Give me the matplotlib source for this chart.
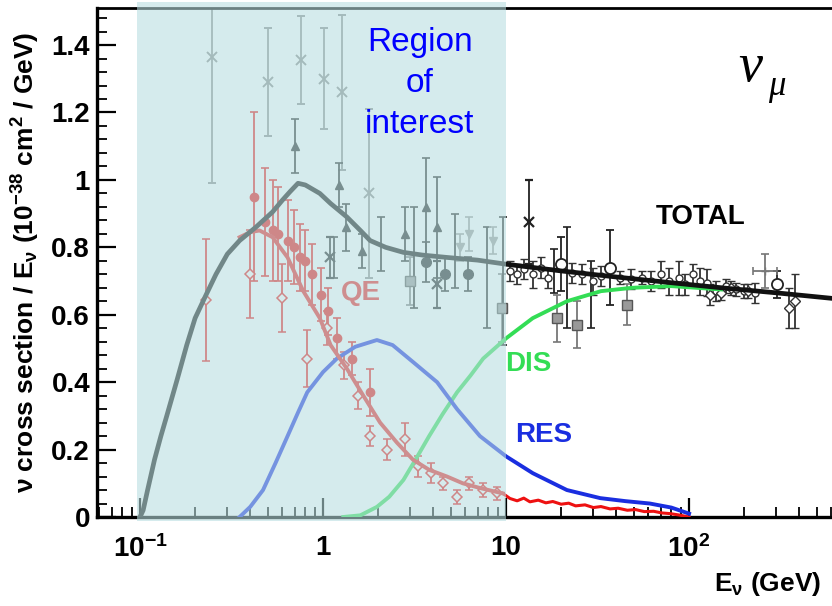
"""
Neutrino-nucleon cross section per energy vs E_nu, with QE / RES / DIS
contributions and the 0.1-10 GeV "region of interest" shaded.
"""

import numpy as np
import matplotlib.pyplot as plt
import matplotlib.transforms as mtransforms
from matplotlib.patches import Rectangle
from matplotlib.ticker import LogLocator, MultipleLocator, NullFormatter

plt.rcParams['font.family'] = ['Liberation Sans', 'DejaVu Sans']
plt.rcParams['font.weight'] = 'bold'
plt.rcParams['axes.labelweight'] = 'bold'
plt.rcParams['mathtext.fontset'] = 'custom'
plt.rcParams['mathtext.rm'] = 'Liberation Sans:bold'
plt.rcParams['mathtext.it'] = 'Liberation Sans:italic:bold'
plt.rcParams['mathtext.bf'] = 'Liberation Sans:bold'
plt.rcParams['mathtext.default'] = 'rm'

# --- theory curves (E in GeV, sigma/E in 1e-38 cm^2/GeV) ---
total_E = [0.100, 0.104, 0.11, 0.12, 0.13, 0.14, 0.16, 0.18, 0.20, 0.23, 0.26, 0.30,
           0.35, 0.43, 0.53, 0.60, 0.66, 0.73, 0.80, 0.96, 1.1, 1.35, 1.6, 1.81,
           2.2, 2.75, 3.5, 4.76, 7, 10, 20, 40, 80, 150, 300, 620]
total_y = [0.0, 0.02, 0.08, 0.17, 0.24, 0.30, 0.41, 0.51, 0.59, 0.66, 0.72, 0.78,
           0.82, 0.86, 0.905, 0.94, 0.965, 0.99, 0.985, 0.96, 0.93, 0.89, 0.85, 0.82,
           0.80, 0.785, 0.777, 0.77, 0.762, 0.75, 0.73, 0.712, 0.695, 0.68, 0.665, 0.648]

qe_E = [0.35, 0.40, 0.45, 0.53, 0.64, 0.78, 0.96, 1.1, 1.35, 1.66, 2.05, 2.54,
        3.1, 3.8, 4.76, 5.8, 7.2, 9.6]
qe_y = [0.83, 0.845, 0.85, 0.83, 0.77, 0.67, 0.59, 0.51, 0.44, 0.36, 0.28, 0.22,
        0.17, 0.14, 0.12, 0.10, 0.086, 0.07]

# noisy QE tail above 10 GeV
qe_tail_E = [9.6, 10.5, 11.5, 12.5, 13.5, 15, 16.5, 18, 20, 22, 24, 27, 30, 33, 37,
             41, 46, 51, 57, 64, 71, 79, 88, 100]
qe_tail_y = [0.07, 0.055, 0.048, 0.056, 0.045, 0.050, 0.042, 0.046, 0.038, 0.041,
             0.033, 0.036, 0.028, 0.031, 0.024, 0.026, 0.020, 0.022, 0.016, 0.017,
             0.012, 0.010, 0.006, 0.0]

res_E = [0.35, 0.40, 0.47, 0.55, 0.64, 0.73, 0.82, 1.0, 1.19, 1.5, 1.97, 2.4, 3.1,
         4.2, 5.4, 7.2, 10, 14, 21.5, 32.7, 45, 61, 80, 100]
res_y = [0.0, 0.03, 0.08, 0.16, 0.24, 0.31, 0.37, 0.43, 0.47, 0.505, 0.525, 0.51,
         0.46, 0.40, 0.32, 0.24, 0.18, 0.13, 0.08, 0.056, 0.047, 0.04, 0.028, 0.01]

dis_E = [1.29, 1.6, 1.97, 2.3, 2.75, 3.2, 3.8, 4.5, 5.4, 6.4, 7.5, 10, 14, 21.5,
         33, 49, 80, 150]
dis_y = [0.0, 0.005, 0.03, 0.06, 0.11, 0.17, 0.24, 0.305, 0.37, 0.42, 0.47, 0.53,
         0.59, 0.64, 0.67, 0.68, 0.685, 0.675]

# --- total cross section measurements ---
xgray_E = [0.247, 0.50, 0.76, 1.01, 1.27, 1.78]
xgray_y = [1.365, 1.29, 1.356, 1.30, 1.26, 0.96]
xgray_err = [0.375, 0.16, 0.13, 0.15, 0.23, 0.25]

xblack_E = [1.09, 4.2, 13.4]
xblack_y = [0.77, 0.69, 0.875]
xblack_err = [0.06, 0.07, 0.125]

tri_E = [0.70, 1.22, 1.34, 1.63, 2.8, 3.66, 4.2]
tri_y = [1.10, 0.985, 0.86, 0.79, 0.84, 0.92, 0.86]
tri_err = [0.08, 0.065, 0.07, 0.05, 0.08, 0.145, 0.15]

circ_E = [3.66, 4.64, 6.2]
circ_y = [0.757, 0.72, 0.72]
circ_err = [0.06, 0.05, 0.05]

sq_E = [2.98, 9.5, 19, 24.4, 46]
sq_y = [0.70, 0.62, 0.59, 0.57, 0.63]
sq_err = [0.07, 0.10, 0.07, 0.07, 0.06]

bar_E = [1.15, 2.07, 3.15, 5.26, 7.9, 9.6, 18.3, 21.5, 29]
bar_y = [0.77, 0.81, 0.77, 0.79, 0.71, 0.70, 0.73, 0.71, 0.66]
bar_err = [0.06, 0.08, 0.15, 0.11, 0.15, 0.19, 0.065, 0.15, 0.10]

ltri_E = [5.6, 6.3, 8.5]
ltri_y = [0.80, 0.84, 0.82]
ltri_err = [0.04, 0.05, 0.04]

ocirc_E = [20, 37, 302]
ocirc_y = [0.75, 0.74, 0.69]
ocirc_err = [0.08, 0.11, 0.04]

cloud_E = [10.5, 11.5, 12.5, 14, 15.5, 17, 23, 26, 30, 33, 42, 48, 55, 62, 70, 78,
           88, 95, 105, 115, 125, 140, 160, 180, 200, 230]
cloud_y = [0.73, 0.72, 0.735, 0.72, 0.74, 0.71, 0.725, 0.72, 0.70, 0.715, 0.71, 0.705,
           0.71, 0.70, 0.72, 0.70, 0.71, 0.69, 0.72, 0.70, 0.695, 0.67, 0.685, 0.675,
           0.67, 0.665]
cloud_err = [0.03, 0.03, 0.03, 0.04, 0.03, 0.03, 0.03, 0.03, 0.04, 0.03, 0.02, 0.03,
             0.02, 0.03, 0.04, 0.04, 0.05, 0.03, 0.03, 0.04, 0.04, 0.03, 0.02, 0.02,
             0.02, 0.03]

dia_E = [130, 150, 170, 210, 350, 380]
dia_y = [0.66, 0.665, 0.68, 0.67, 0.62, 0.64]
dia_err = [0.03, 0.02, 0.02, 0.02, 0.06, 0.08]

cross_E = [260]
cross_y = [0.73]
cross_err = [0.05]
cross_xerr = [[37], [42]]

# --- QE measurements ---
qe_dat_E = [0.42, 0.48, 0.53, 0.57, 0.64, 0.69, 0.75, 0.80, 0.87, 0.97, 1.06, 1.19,
            1.44, 1.81]
qe_dat_y = [0.95, 0.875, 0.85, 0.84, 0.82, 0.80, 0.77, 0.76, 0.72, 0.66, 0.61, 0.53,
            0.47, 0.37]
qe_dat_err = [0.25, 0.16, 0.15, 0.14, 0.12, 0.11, 0.10, 0.09, 0.09, 0.08, 0.07, 0.06,
              0.05, 0.07]

qe_dia_E = [0.23, 0.40, 0.60, 0.82, 1.05, 1.3, 1.55, 1.81, 2.24, 2.8, 3.3, 3.9, 4.5,
            5.4, 6.3, 7.5, 8.9]
qe_dia_y = [0.644, 0.72, 0.65, 0.47, 0.56, 0.45, 0.36, 0.24, 0.20, 0.23, 0.15, 0.13,
            0.10, 0.06, 0.10, 0.08, 0.07]
qe_dia_err = [0.18, 0.13, 0.10, 0.085, 0.05, 0.04, 0.04, 0.03, 0.03, 0.05, 0.03, 0.03,
              0.02, 0.02, 0.02, 0.02, 0.02]

yticks = [0, 0.2, 0.4, 0.6, 0.8, 1.0, 1.2, 1.4]
ytick_labels = ['0', '0.2', '0.4', '0.6', '0.8', '1', '1.2', '1.4']
xticks = [0.1, 1, 10, 100]
xtick_labels = ['10$^{-1}$', '1', '10', '10$^{2}$']

fig = plt.figure(figsize=(8.32, 6.06), dpi=100)
ax = fig.add_axes([97 / 832, 89 / 606, 735 / 832, 509 / 606])
ax.set_xscale('log')
ax.set_xlim(0.0582, 604)
ax.set_ylim(0, 1.51)

eb = dict(elinewidth=1.3, capsize=3, capthick=1.2, zorder=2)

ax.errorbar(xgray_E, xgray_y, yerr=xgray_err, fmt='x', color='#8a8a8a', ms=7, mew=1.4, **eb)
ax.errorbar(xblack_E, xblack_y, yerr=xblack_err, fmt='x', color='#222222', ms=7, mew=1.6, **eb)
ax.errorbar(tri_E, tri_y, yerr=tri_err, fmt='^', color='#222222', ms=6, **eb)
ax.errorbar(circ_E, circ_y, yerr=circ_err, fmt='o', color='#222222', ms=7, **eb)
ax.errorbar(sq_E, sq_y, yerr=sq_err, fmt='s', color='#777777', mfc='#999999',
            mec='#555555', ms=7, **eb)
ax.errorbar(bar_E, bar_y, yerr=bar_err, fmt='none', ecolor='#222222', **eb)
ax.errorbar(ltri_E, ltri_y, yerr=ltri_err, fmt='v', color='#9a9a9a', ms=6, **eb)
ax.errorbar(ocirc_E, ocirc_y, yerr=ocirc_err, fmt='o', color='#222222', mfc='white',
            ms=8, mew=1.3, **eb)
ax.errorbar(cloud_E, cloud_y, yerr=cloud_err, fmt='o', color='#333333', mfc='white',
            ms=5, mew=1.0, **eb)
ax.errorbar(dia_E, dia_y, yerr=dia_err, fmt='D', color='#333333', mfc='white',
            ms=5, mew=1.0, **eb)
ax.errorbar(cross_E, cross_y, yerr=cross_err, xerr=cross_xerr, fmt='+', color='#777777',
            ms=6, **eb)

ax.errorbar(qe_dat_E, qe_dat_y, yerr=qe_dat_err, fmt='o', color='#ee1111', ms=6, **eb)
ax.errorbar(qe_dia_E, qe_dia_y, yerr=qe_dia_err, fmt='D', color='#ee1111', mfc='white',
            ms=5, mew=1.1, **eb)

ax.plot(qe_tail_E, qe_tail_y, color='#ee1111', lw=2.2, zorder=3)
ax.plot(dis_E, dis_y, color='#33dd55', lw=2.8, zorder=3)
ax.plot(res_E, res_y, color='#1a2ee0', lw=2.8, zorder=3)
ax.plot(qe_E, qe_y, color='#ee2020', lw=2.8, zorder=3)
ax.plot(total_E, total_y, color='#111111', lw=3.4, zorder=4)

# curve labels
ax.text(1.6, 0.665, 'QE', color='#ee2020', fontsize=20, ha='center', va='center', zorder=3)
ax.text(13.2, 0.455, 'DIS', color='#33dd55', fontsize=20, ha='center', va='center', zorder=6)
ax.text(16.0, 0.243, 'RES', color='#1a2ee0', fontsize=20, ha='center', va='center', zorder=6)
ax.text(115, 0.89, 'TOTAL', color='black', fontsize=20, ha='center', va='center', zorder=6)
ax.text(0.889, 0.882, 'ν', transform=ax.transAxes, fontsize=39, family='Liberation Serif',
        style='italic', fontweight='normal', ha='center', va='center', zorder=6)
ax.text(0.925, 0.845, 'μ', transform=ax.transAxes, fontsize=25, family='Liberation Serif',
        style='italic', fontweight='normal', ha='center', va='center', zorder=6)

# shaded region of interest drawn over the data
trans = mtransforms.blended_transform_factory(ax.transData, ax.transAxes)
ax.add_patch(Rectangle((0.096, -0.007), 10 - 0.096, 1.018, transform=trans,
                       facecolor=(0.72, 0.87, 0.88), alpha=0.58, edgecolor='none',
                       zorder=5, clip_on=False))
ax.text(0.439, 0.852, 'Region\nof\ninterest', transform=ax.transAxes, color='#0000ff',
        fontsize=24, fontweight='normal', ha='center', va='center', linespacing=1.42,
        zorder=7)

# axes styling
ax.spines['right'].set_visible(False)
for side in ['left', 'bottom']:
    ax.spines[side].set_linewidth(2.4)
ax.spines['top'].set_linewidth(2.0)

ax.set_xticks(xticks)
ax.set_xticklabels(xtick_labels)
ax.xaxis.set_minor_locator(LogLocator(base=10, subs=np.arange(2, 10)))
ax.xaxis.set_minor_formatter(NullFormatter())
ax.set_yticks(yticks)
ax.set_yticklabels(ytick_labels)
ax.yaxis.set_minor_locator(MultipleLocator(0.04))

ax.tick_params(which='both', direction='in', top=False, right=False, labelsize=20)
ax.tick_params(which='major', length=14, width=1.6)
ax.tick_params(which='minor', length=7, width=1.3)
ax.tick_params(axis='x', which='major', pad=13)
ax.tick_params(axis='y', which='major', pad=5)

ax.set_ylabel('ν cross section / E$_{ν}$ (10$^{-38}$ cm$^{2}$ / GeV)', fontsize=19)
ax.yaxis.set_label_coords(-0.075, 0.5)
ax.set_xlabel('E$_{ν}$ (GeV)', fontsize=19, ha='right')
ax.xaxis.set_label_coords(0.985, -0.105)

fig.savefig('out.png', dpi=100)
